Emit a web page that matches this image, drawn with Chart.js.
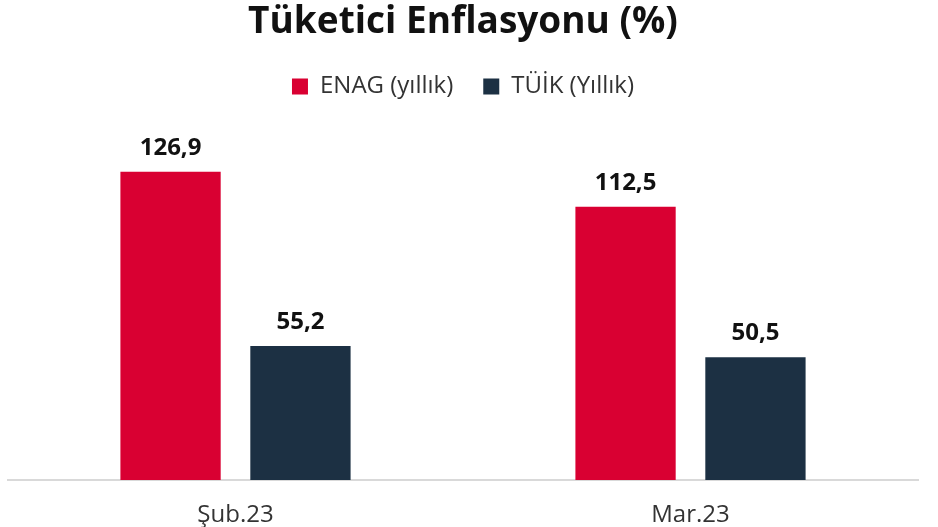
<!DOCTYPE html>
<html><head><meta charset="utf-8">
<script src="https://cdn.jsdelivr.net/npm/chart.js@4"></script>
<style>html,body{margin:0;padding:0;background:#fff;}#wrap{width:938px;height:527px;position:relative;}</style>
</head><body><div id="wrap"><canvas id="c"></canvas></div>
<script>
const categories = ["Şub.23", "Mar.23"];
const enagValues = [126.9, 112.5];
const tuikValues = [55.2, 50.5];
const seriesNames = ["ENAG (yıllık)", "TÜİK (Yıllık)"];

const valueLabels = {
  id: 'valueLabels',
  afterDatasetsDraw(chart) {
    const ctx = chart.ctx;
    ctx.save();
    ctx.font = 'bold 24px "Open Sans"';
    ctx.fillStyle = '#111';
    ctx.textAlign = 'center';
    ctx.textBaseline = 'alphabetic';
    chart.data.datasets.forEach((ds, i) => {
      chart.getDatasetMeta(i).data.forEach((bar, j) => {
        ctx.fillText(ds.data[j].toFixed(1).replace('.', ','), bar.x, bar.y - 17);
      });
    });
    ctx.restore();
  }
};

new Chart(document.getElementById('c'), {
  type: 'bar',
  data: {
    labels: categories,
    datasets: [
      { label: seriesNames[0], data: enagValues, backgroundColor: '#d90032' },
      { label: seriesNames[1], data: tuikValues, backgroundColor: '#1c3043' }
    ]
  },
  options: {
    responsive: true,
    maintainAspectRatio: false,
    animation: false,
    devicePixelRatio: 1,
    layout: { padding: { left: 8, right: 20, top: 0, bottom: 0 } },
    categoryPercentage: 0.571,
    barPercentage: 0.772,
    plugins: {
      title: {
        display: true,
        text: 'Tüketici Enflasyonu (%)',
        font: { family: 'Open Sans', size: 37, weight: 'bold' },
        color: '#111',
        padding: { top: 0, bottom: 0 }
      },
      legend: {
        display: true,
        labels: {
          font: { family: 'Open Sans', size: 24 },
          color: '#333',
          boxWidth: 16,
          boxHeight: 16,
          padding: 30
        }
      },
      tooltip: { enabled: false }
    },
    scales: {
      x: {
        grid: { display: false },
        border: { display: true, color: '#d9d9d9', width: 2 },
        ticks: { font: { family: 'Open Sans', size: 24 }, color: '#333', padding: 13 },
        afterFit(scale) { scale.height = 47; }
      },
      y: {
        display: false,
        min: 0,
        max: 153
      }
    }
  },
  plugins: [valueLabels]
});
</script></body></html>
